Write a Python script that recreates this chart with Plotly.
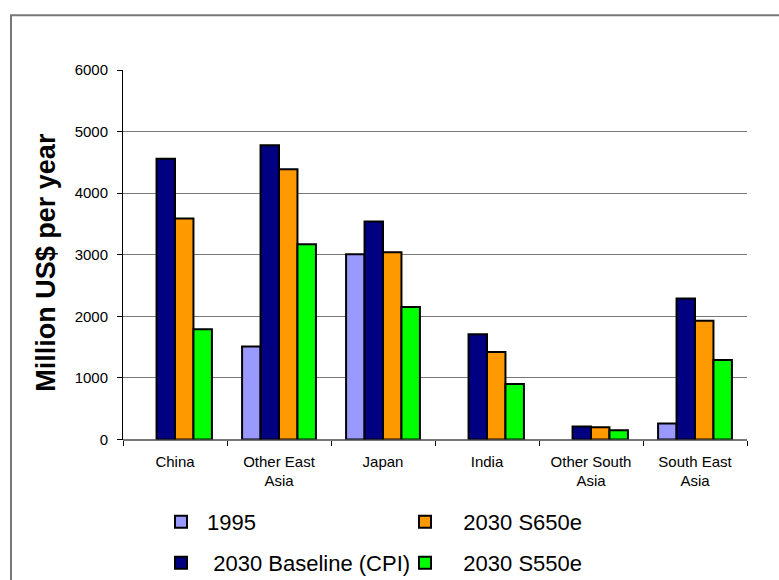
import plotly.graph_objects as go

categories = ["China", "Other East<br>Asia", "Japan", "India", "Other South<br>Asia", "South East<br>Asia"]
v1995 = [None, 1510, 3010, None, None, 260]
v_base = [4560, 4780, 3540, 1710, 210, 2290]
v_s650 = [3590, 4390, 3040, 1420, 200, 1930]
v_s550 = [1790, 3170, 2150, 900, 150, 1290]
y_ticks = [0, 1000, 2000, 3000, 4000, 5000, 6000]

FONT = "Liberation Sans, Arial, sans-serif"
line = dict(color="black", width=2)
NB = "\u00a0"

fig = go.Figure()
fig.add_trace(go.Bar(name=NB + "1995", x=categories, y=v1995, marker=dict(color="#9999FF", line=line),
                     legend="legend", legendrank=1))
fig.add_trace(go.Bar(name=NB * 2 + "2030 Baseline (CPI)", x=categories, y=v_base,
                     marker=dict(color="#000080", line=line), legend="legend2", legendrank=1))
fig.add_trace(go.Bar(name=NB * 3 + "2030 S650e", x=categories, y=v_s650,
                     marker=dict(color="#FF9900", line=line), legend="legend", legendrank=2))
fig.add_trace(go.Bar(name=NB * 3 + "2030 S550e", x=categories, y=v_s550,
                     marker=dict(color="#00FF00", line=line), legend="legend2", legendrank=2))

H = 580
leg_common = dict(orientation="h", xanchor="left", yanchor="middle", xref="paper", yref="container",
                  bgcolor="rgba(0,0,0,0)", font=dict(family=FONT, size=22, color="black"),
                  entrywidth=199, traceorder="normal")

fig.update_layout(
    width=779, height=H,
    margin=dict(l=123, r=32, t=70, b=138),
    paper_bgcolor="white", plot_bgcolor="white",
    barmode="group", bargap=0.29, bargroupgap=0,
    font=dict(family=FONT, size=15, color="black"),
    legend=dict(x=(161 - 123) / 624, y=1 - 522 / H, **leg_common),
    legend2=dict(x=(161 - 123) / 624, y=1 - 563 / H, **leg_common),
    xaxis=dict(showline=False, ticks="outside", tickson="boundaries", ticklen=5, tickcolor="black",
               tickfont=dict(size=15), ticklabelstandoff=11),
    yaxis=dict(range=[0, 6000], tickvals=y_ticks, showline=True, linecolor="black", linewidth=1,
               ticks="outside", ticklen=5, tickcolor="black", showgrid=True, gridcolor="#777777",
               gridwidth=1, zeroline=True, zerolinecolor="#777777", tickfont=dict(size=15),
               ticklabelstandoff=6),
    annotations=[dict(text="<b>Million US$ per year</b>", xref="paper", yref="paper",
                      x=(46 - 123) / 624, y=(442 - 264) / 372, textangle=-90, showarrow=False,
                      xanchor="center", yanchor="middle", font=dict(family=FONT, size=27, color="black"))],
    shapes=[dict(type="rect", xref="paper", yref="paper", x0=(11 - 123) / 624, x1=1.2,
                 y0=-0.6, y1=(442 - 15) / 372, line=dict(color="#777777", width=2), layer="below")],
)
fig.write_html("out.html", config={"displayModeBar": False},
               post_script="document.body.style.margin='0';")
